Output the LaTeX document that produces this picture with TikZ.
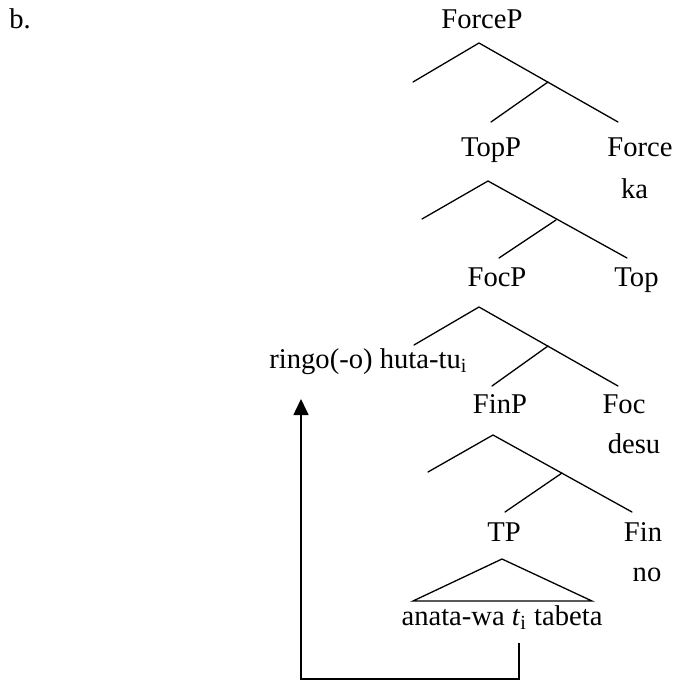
\documentclass[tikz,border=0pt]{standalone}
\usepackage{fontspec}
\setmainfont{Liberation Serif}
\usetikzlibrary{arrows.meta}
\begin{document}
\begin{tikzpicture}[x=0.5pt,y=-0.5pt,
  lab/.style={anchor=base, inner sep=0pt, font=\fontsize{14.3pt}{17pt}\selectfont},
  branch/.style={line width=0.65pt, line cap=round},
  move/.style={line width=0.75pt, -{Triangle[length=8pt,width=7.5pt]}}]
\useasboundingbox (0,0) rectangle (675,681);

% example label
\node[lab, anchor=base west] (ex) at (9,28) {b.};

% category labels and heads
\node[lab] (forcep) at (482,28) {ForceP};
\node[lab] (topp)   at (491,156) {TopP};
\node[lab] (force)  at (640,156) {Force};
\node[lab] (ka)     at (634.5,198) {ka};
\node[lab] (focp)   at (497,286) {FocP};
\node[lab] (top)    at (636.5,286) {Top};
\node[lab, anchor=base west] (ringo) at (269,368) {ringo(-o) huta-tu\textsubscript{i}};
\node[lab] (finp)   at (500,413) {FinP};
\node[lab] (foc)    at (624,413) {Foc};
\node[lab] (desu)   at (634,453) {desu};
\node[lab] (tp)     at (504,541) {TP};
\node[lab] (fin)    at (643,541) {Fin};
\node[lab] (no)     at (647,581) {no};
\node[lab] (anata)  at (502,625) {anata-wa \textit{t}\textsubscript{i} tabeta};

% ForceP branching
\coordinate (a1) at (479,43);  \coordinate (l1) at (413,82);
\coordinate (m1) at (548,82);  \coordinate (c1) at (491,122);
\coordinate (r1) at (618,122);
\draw[branch] (l1) -- (a1) -- (r1);
\draw[branch] (m1) -- (c1);

% TopP branching
\coordinate (a2) at (488,181); \coordinate (l2) at (422,219);
\coordinate (m2) at (556,220); \coordinate (c2) at (499,258);
\coordinate (r2) at (627,258);
\draw[branch] (l2) -- (a2) -- (r2);
\draw[branch] (m2) -- (c2);

% FocP branching
\coordinate (a3) at (479,307); \coordinate (l3) at (414,345);
\coordinate (m3) at (548,346); \coordinate (c3) at (492,386);
\coordinate (r3) at (618,386);
\draw[branch] (l3) -- (a3) -- (r3);
\draw[branch] (m3) -- (c3);

% FinP branching
\coordinate (a4) at (493,435); \coordinate (l4) at (428,472);
\coordinate (m4) at (562,473); \coordinate (c4) at (505,512);
\coordinate (r4) at (632,512);
\draw[branch] (l4) -- (a4) -- (r4);
\draw[branch] (m4) -- (c4);

% TP triangle
\coordinate (ta) at (502,559);
\coordinate (tl) at (413,601);
\coordinate (tr) at (592,601);
\draw[branch] (ta) -- (tl) -- (tr) -- cycle;

% movement arrow from the trace to the fronted phrase
\coordinate (trace)   at (519,643);
\coordinate (corner1) at (519,679);
\coordinate (corner2) at (301,679);
\coordinate (landing) at (301,399);
\draw[move] (trace) -- (corner1) -- (corner2) -- (landing);
\end{tikzpicture}
\end{document}
